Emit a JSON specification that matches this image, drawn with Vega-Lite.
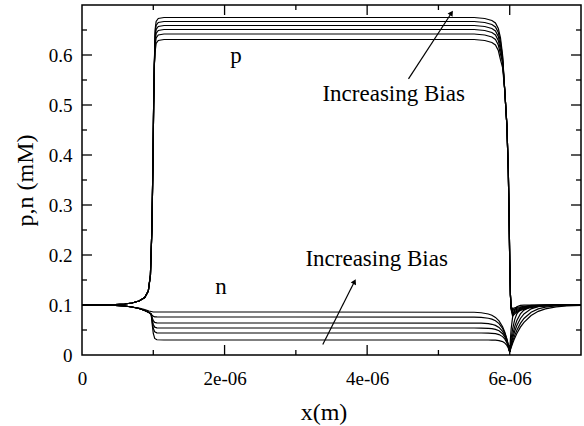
{
  "$schema": "https://vega.github.io/schema/vega-lite/v6.json",
  "width": 499,
  "height": 350,
  "autosize": {"type": "none"},
  "padding": {"left": 82, "top": 5, "right": 3, "bottom": 71},
  "background": "white",
  "config": {
    "view": {"stroke": "black", "strokeWidth": 1.5},
    "font": "Liberation Serif",
    "axis": {"grid": false, "domain": false, "labelFont": "Liberation Serif", "titleFont": "Liberation Serif", "labelFontSize": 19, "titleFontSize": 24, "labelColor": "black", "titleColor": "black", "titleFontWeight": "normal"}
  },
  "datasets": {
    "curves": [
      {"c":"p1","x":0,"v":0.1},{"c":"p1","x":0.4e-6,"v":0.1005},{"c":"p1","x":0.6e-6,"v":0.102},{"c":"p1","x":0.7e-6,"v":0.104},{"c":"p1","x":0.8e-6,"v":0.108},{"c":"p1","x":0.88e-6,"v":0.115},{"c":"p1","x":0.93e-6,"v":0.128},{"c":"p1","x":0.96e-6,"v":0.16},{"c":"p1","x":0.98e-6,"v":0.25},{"c":"p1","x":0.995e-6,"v":0.38},{"c":"p1","x":1.005e-6,"v":0.5},{"c":"p1","x":1.015e-6,"v":0.58},{"c":"p1","x":1.025e-6,"v":0.606},{"c":"p1","x":1.04e-6,"v":0.623},{"c":"p1","x":1.07e-6,"v":0.629},{"c":"p1","x":1.15e-6,"v":0.631},{"c":"p1","x":3e-6,"v":0.631},{"c":"p1","x":5.5e-6,"v":0.631},{"c":"p1","x":5.65e-6,"v":0.629},{"c":"p1","x":5.75e-6,"v":0.625},{"c":"p1","x":5.8e-6,"v":0.62},{"c":"p1","x":5.84e-6,"v":0.609},{"c":"p1","x":5.87e-6,"v":0.591},{"c":"p1","x":5.9e-6,"v":0.575},{"c":"p1","x":5.93e-6,"v":0.53},{"c":"p1","x":5.96e-6,"v":0.46},{"c":"p1","x":5.98e-6,"v":0.37},{"c":"p1","x":5.99e-6,"v":0.29},{"c":"p1","x":6.0e-6,"v":0.19},{"c":"p1","x":6.01e-6,"v":0.12},{"c":"p1","x":6.02e-6,"v":0.097},{"c":"p1","x":6.04e-6,"v":0.093},{"c":"p1","x":6.08e-6,"v":0.0948},{"c":"p1","x":6.15e-6,"v":0.0965},{"c":"p1","x":6.25e-6,"v":0.098},{"c":"p1","x":6.4e-6,"v":0.0992},{"c":"p1","x":6.6e-6,"v":0.0997},{"c":"p1","x":7e-6,"v":0.1},

      {"c":"p2","x":0,"v":0.1},{"c":"p2","x":0.4e-6,"v":0.1005},{"c":"p2","x":0.6e-6,"v":0.102},{"c":"p2","x":0.7e-6,"v":0.104},{"c":"p2","x":0.8e-6,"v":0.108},{"c":"p2","x":0.88e-6,"v":0.115},{"c":"p2","x":0.93e-6,"v":0.128},{"c":"p2","x":0.96e-6,"v":0.16},{"c":"p2","x":0.98e-6,"v":0.25},{"c":"p2","x":0.995e-6,"v":0.38},{"c":"p2","x":1.005e-6,"v":0.5},{"c":"p2","x":1.015e-6,"v":0.58},{"c":"p2","x":1.025e-6,"v":0.617},{"c":"p2","x":1.04e-6,"v":0.634},{"c":"p2","x":1.07e-6,"v":0.64},{"c":"p2","x":1.15e-6,"v":0.642},{"c":"p2","x":3e-6,"v":0.642},{"c":"p2","x":5.5e-6,"v":0.642},{"c":"p2","x":5.65e-6,"v":0.64},{"c":"p2","x":5.75e-6,"v":0.636},{"c":"p2","x":5.8e-6,"v":0.631},{"c":"p2","x":5.84e-6,"v":0.62},{"c":"p2","x":5.87e-6,"v":0.602},{"c":"p2","x":5.9e-6,"v":0.585},{"c":"p2","x":5.93e-6,"v":0.53},{"c":"p2","x":5.96e-6,"v":0.46},{"c":"p2","x":5.98e-6,"v":0.37},{"c":"p2","x":5.99e-6,"v":0.29},{"c":"p2","x":6.0e-6,"v":0.19},{"c":"p2","x":6.01e-6,"v":0.12},{"c":"p2","x":6.02e-6,"v":0.095},{"c":"p2","x":6.04e-6,"v":0.09},{"c":"p2","x":6.08e-6,"v":0.0925},{"c":"p2","x":6.15e-6,"v":0.095},{"c":"p2","x":6.25e-6,"v":0.0972},{"c":"p2","x":6.4e-6,"v":0.0988},{"c":"p2","x":6.6e-6,"v":0.0996},{"c":"p2","x":7e-6,"v":0.1},

      {"c":"p3","x":0,"v":0.1},{"c":"p3","x":0.4e-6,"v":0.1005},{"c":"p3","x":0.6e-6,"v":0.102},{"c":"p3","x":0.7e-6,"v":0.104},{"c":"p3","x":0.8e-6,"v":0.108},{"c":"p3","x":0.88e-6,"v":0.115},{"c":"p3","x":0.93e-6,"v":0.128},{"c":"p3","x":0.96e-6,"v":0.16},{"c":"p3","x":0.98e-6,"v":0.25},{"c":"p3","x":0.995e-6,"v":0.38},{"c":"p3","x":1.005e-6,"v":0.5},{"c":"p3","x":1.015e-6,"v":0.58},{"c":"p3","x":1.025e-6,"v":0.626},{"c":"p3","x":1.04e-6,"v":0.643},{"c":"p3","x":1.07e-6,"v":0.649},{"c":"p3","x":1.15e-6,"v":0.651},{"c":"p3","x":3e-6,"v":0.651},{"c":"p3","x":5.5e-6,"v":0.651},{"c":"p3","x":5.65e-6,"v":0.649},{"c":"p3","x":5.75e-6,"v":0.645},{"c":"p3","x":5.8e-6,"v":0.64},{"c":"p3","x":5.84e-6,"v":0.629},{"c":"p3","x":5.87e-6,"v":0.611},{"c":"p3","x":5.9e-6,"v":0.588},{"c":"p3","x":5.93e-6,"v":0.53},{"c":"p3","x":5.96e-6,"v":0.46},{"c":"p3","x":5.98e-6,"v":0.37},{"c":"p3","x":5.99e-6,"v":0.29},{"c":"p3","x":6.0e-6,"v":0.19},{"c":"p3","x":6.01e-6,"v":0.12},{"c":"p3","x":6.02e-6,"v":0.094},{"c":"p3","x":6.04e-6,"v":0.087},{"c":"p3","x":6.08e-6,"v":0.0903},{"c":"p3","x":6.15e-6,"v":0.0935},{"c":"p3","x":6.25e-6,"v":0.0964},{"c":"p3","x":6.4e-6,"v":0.0986},{"c":"p3","x":6.6e-6,"v":0.0995},{"c":"p3","x":7e-6,"v":0.1},

      {"c":"p4","x":0,"v":0.1},{"c":"p4","x":0.4e-6,"v":0.1005},{"c":"p4","x":0.6e-6,"v":0.102},{"c":"p4","x":0.7e-6,"v":0.104},{"c":"p4","x":0.8e-6,"v":0.108},{"c":"p4","x":0.88e-6,"v":0.115},{"c":"p4","x":0.93e-6,"v":0.128},{"c":"p4","x":0.96e-6,"v":0.16},{"c":"p4","x":0.98e-6,"v":0.25},{"c":"p4","x":0.995e-6,"v":0.38},{"c":"p4","x":1.005e-6,"v":0.5},{"c":"p4","x":1.015e-6,"v":0.58},{"c":"p4","x":1.025e-6,"v":0.634},{"c":"p4","x":1.04e-6,"v":0.651},{"c":"p4","x":1.07e-6,"v":0.657},{"c":"p4","x":1.15e-6,"v":0.659},{"c":"p4","x":3e-6,"v":0.659},{"c":"p4","x":5.5e-6,"v":0.659},{"c":"p4","x":5.65e-6,"v":0.657},{"c":"p4","x":5.75e-6,"v":0.653},{"c":"p4","x":5.8e-6,"v":0.648},{"c":"p4","x":5.84e-6,"v":0.637},{"c":"p4","x":5.87e-6,"v":0.619},{"c":"p4","x":5.9e-6,"v":0.592},{"c":"p4","x":5.93e-6,"v":0.53},{"c":"p4","x":5.96e-6,"v":0.46},{"c":"p4","x":5.98e-6,"v":0.37},{"c":"p4","x":5.99e-6,"v":0.29},{"c":"p4","x":6.0e-6,"v":0.19},{"c":"p4","x":6.01e-6,"v":0.12},{"c":"p4","x":6.02e-6,"v":0.093},{"c":"p4","x":6.04e-6,"v":0.084},{"c":"p4","x":6.08e-6,"v":0.088},{"c":"p4","x":6.15e-6,"v":0.092},{"c":"p4","x":6.25e-6,"v":0.0955},{"c":"p4","x":6.4e-6,"v":0.0981},{"c":"p4","x":6.6e-6,"v":0.0994},{"c":"p4","x":7e-6,"v":0.1},

      {"c":"p5","x":0,"v":0.1},{"c":"p5","x":0.4e-6,"v":0.1005},{"c":"p5","x":0.6e-6,"v":0.102},{"c":"p5","x":0.7e-6,"v":0.104},{"c":"p5","x":0.8e-6,"v":0.108},{"c":"p5","x":0.88e-6,"v":0.115},{"c":"p5","x":0.93e-6,"v":0.128},{"c":"p5","x":0.96e-6,"v":0.16},{"c":"p5","x":0.98e-6,"v":0.25},{"c":"p5","x":0.995e-6,"v":0.38},{"c":"p5","x":1.005e-6,"v":0.5},{"c":"p5","x":1.015e-6,"v":0.58},{"c":"p5","x":1.025e-6,"v":0.642},{"c":"p5","x":1.04e-6,"v":0.659},{"c":"p5","x":1.07e-6,"v":0.665},{"c":"p5","x":1.15e-6,"v":0.667},{"c":"p5","x":3e-6,"v":0.667},{"c":"p5","x":5.5e-6,"v":0.667},{"c":"p5","x":5.65e-6,"v":0.665},{"c":"p5","x":5.75e-6,"v":0.661},{"c":"p5","x":5.8e-6,"v":0.656},{"c":"p5","x":5.84e-6,"v":0.645},{"c":"p5","x":5.87e-6,"v":0.627},{"c":"p5","x":5.9e-6,"v":0.596},{"c":"p5","x":5.93e-6,"v":0.53},{"c":"p5","x":5.96e-6,"v":0.46},{"c":"p5","x":5.98e-6,"v":0.37},{"c":"p5","x":5.99e-6,"v":0.29},{"c":"p5","x":6.0e-6,"v":0.19},{"c":"p5","x":6.01e-6,"v":0.12},{"c":"p5","x":6.02e-6,"v":0.092},{"c":"p5","x":6.04e-6,"v":0.081},{"c":"p5","x":6.08e-6,"v":0.0858},{"c":"p5","x":6.15e-6,"v":0.0905},{"c":"p5","x":6.25e-6,"v":0.0947},{"c":"p5","x":6.4e-6,"v":0.0977},{"c":"p5","x":6.6e-6,"v":0.0992},{"c":"p5","x":7e-6,"v":0.1},

      {"c":"p6","x":0,"v":0.1},{"c":"p6","x":0.4e-6,"v":0.1005},{"c":"p6","x":0.6e-6,"v":0.102},{"c":"p6","x":0.7e-6,"v":0.104},{"c":"p6","x":0.8e-6,"v":0.108},{"c":"p6","x":0.88e-6,"v":0.115},{"c":"p6","x":0.93e-6,"v":0.128},{"c":"p6","x":0.96e-6,"v":0.16},{"c":"p6","x":0.98e-6,"v":0.25},{"c":"p6","x":0.995e-6,"v":0.38},{"c":"p6","x":1.005e-6,"v":0.5},{"c":"p6","x":1.015e-6,"v":0.58},{"c":"p6","x":1.025e-6,"v":0.65},{"c":"p6","x":1.04e-6,"v":0.667},{"c":"p6","x":1.07e-6,"v":0.673},{"c":"p6","x":1.15e-6,"v":0.675},{"c":"p6","x":3e-6,"v":0.675},{"c":"p6","x":5.5e-6,"v":0.675},{"c":"p6","x":5.65e-6,"v":0.673},{"c":"p6","x":5.75e-6,"v":0.669},{"c":"p6","x":5.8e-6,"v":0.664},{"c":"p6","x":5.84e-6,"v":0.653},{"c":"p6","x":5.87e-6,"v":0.635},{"c":"p6","x":5.9e-6,"v":0.6},{"c":"p6","x":5.93e-6,"v":0.53},{"c":"p6","x":5.96e-6,"v":0.46},{"c":"p6","x":5.98e-6,"v":0.37},{"c":"p6","x":5.99e-6,"v":0.29},{"c":"p6","x":6.0e-6,"v":0.19},{"c":"p6","x":6.01e-6,"v":0.12},{"c":"p6","x":6.02e-6,"v":0.091},{"c":"p6","x":6.04e-6,"v":0.078},{"c":"p6","x":6.08e-6,"v":0.0835},{"c":"p6","x":6.15e-6,"v":0.089},{"c":"p6","x":6.25e-6,"v":0.0938},{"c":"p6","x":6.4e-6,"v":0.0974},{"c":"p6","x":6.6e-6,"v":0.0991},{"c":"p6","x":7e-6,"v":0.1},

      {"c":"n1","x":0,"v":0.1},{"c":"n1","x":0.4e-6,"v":0.0995},{"c":"n1","x":0.6e-6,"v":0.098},{"c":"n1","x":0.7e-6,"v":0.096},{"c":"n1","x":0.8e-6,"v":0.093},{"c":"n1","x":0.88e-6,"v":0.089},{"c":"n1","x":0.94e-6,"v":0.085},{"c":"n1","x":0.97e-6,"v":0.082},{"c":"n1","x":0.985e-6,"v":0.0612},{"c":"n1","x":1.0e-6,"v":0.043},{"c":"n1","x":1.02e-6,"v":0.0331},{"c":"n1","x":1.05e-6,"v":0.0305},{"c":"n1","x":1.15e-6,"v":0.03},{"c":"n1","x":3e-6,"v":0.03},{"c":"n1","x":5.5e-6,"v":0.03},{"c":"n1","x":5.6e-6,"v":0.03},{"c":"n1","x":5.7e-6,"v":0.03},{"c":"n1","x":5.75e-6,"v":0.0298},{"c":"n1","x":5.8e-6,"v":0.0296},{"c":"n1","x":5.85e-6,"v":0.0288},{"c":"n1","x":5.9e-6,"v":0.0268},{"c":"n1","x":5.93e-6,"v":0.0241},{"c":"n1","x":5.96e-6,"v":0.0192},{"c":"n1","x":5.98e-6,"v":0.0139},{"c":"n1","x":6.0e-6,"v":0.006},{"c":"n1","x":6.01e-6,"v":0.0326},{"c":"n1","x":6.02e-6,"v":0.0518},{"c":"n1","x":6.04e-6,"v":0.0752},{"c":"n1","x":6.07e-6,"v":0.0909},{"c":"n1","x":6.1e-6,"v":0.0966},{"c":"n1","x":6.15e-6,"v":0.0994},{"c":"n1","x":6.2e-6,"v":0.0999},{"c":"n1","x":6.3e-6,"v":0.1},{"c":"n1","x":7e-6,"v":0.1},

      {"c":"n2","x":0,"v":0.1},{"c":"n2","x":0.4e-6,"v":0.0995},{"c":"n2","x":0.6e-6,"v":0.098},{"c":"n2","x":0.7e-6,"v":0.096},{"c":"n2","x":0.8e-6,"v":0.093},{"c":"n2","x":0.88e-6,"v":0.089},{"c":"n2","x":0.94e-6,"v":0.085},{"c":"n2","x":0.97e-6,"v":0.082},{"c":"n2","x":0.985e-6,"v":0.0668},{"c":"n2","x":1.0e-6,"v":0.0535},{"c":"n2","x":1.02e-6,"v":0.0463},{"c":"n2","x":1.05e-6,"v":0.0444},{"c":"n2","x":1.15e-6,"v":0.044},{"c":"n2","x":3e-6,"v":0.044},{"c":"n2","x":5.5e-6,"v":0.044},{"c":"n2","x":5.6e-6,"v":0.044},{"c":"n2","x":5.7e-6,"v":0.0437},{"c":"n2","x":5.75e-6,"v":0.0434},{"c":"n2","x":5.8e-6,"v":0.0426},{"c":"n2","x":5.85e-6,"v":0.0409},{"c":"n2","x":5.9e-6,"v":0.0368},{"c":"n2","x":5.93e-6,"v":0.0322},{"c":"n2","x":5.96e-6,"v":0.0245},{"c":"n2","x":5.98e-6,"v":0.0168},{"c":"n2","x":6.0e-6,"v":0.006},{"c":"n2","x":6.01e-6,"v":0.0205},{"c":"n2","x":6.02e-6,"v":0.0326},{"c":"n2","x":6.04e-6,"v":0.0518},{"c":"n2","x":6.07e-6,"v":0.0707},{"c":"n2","x":6.1e-6,"v":0.0822},{"c":"n2","x":6.15e-6,"v":0.0923},{"c":"n2","x":6.2e-6,"v":0.0966},{"c":"n2","x":6.3e-6,"v":0.0994},{"c":"n2","x":6.4e-6,"v":0.0999},{"c":"n2","x":7e-6,"v":0.1},

      {"c":"n3","x":0,"v":0.1},{"c":"n3","x":0.4e-6,"v":0.0995},{"c":"n3","x":0.6e-6,"v":0.098},{"c":"n3","x":0.7e-6,"v":0.096},{"c":"n3","x":0.8e-6,"v":0.093},{"c":"n3","x":0.88e-6,"v":0.089},{"c":"n3","x":0.94e-6,"v":0.085},{"c":"n3","x":0.97e-6,"v":0.082},{"c":"n3","x":0.985e-6,"v":0.0708},{"c":"n3","x":1.0e-6,"v":0.061},{"c":"n3","x":1.02e-6,"v":0.0557},{"c":"n3","x":1.05e-6,"v":0.0543},{"c":"n3","x":1.15e-6,"v":0.054},{"c":"n3","x":3e-6,"v":0.054},{"c":"n3","x":5.5e-6,"v":0.054},{"c":"n3","x":5.6e-6,"v":0.0538},{"c":"n3","x":5.7e-6,"v":0.0533},{"c":"n3","x":5.75e-6,"v":0.0527},{"c":"n3","x":5.8e-6,"v":0.0512},{"c":"n3","x":5.85e-6,"v":0.0484},{"c":"n3","x":5.9e-6,"v":0.0425},{"c":"n3","x":5.93e-6,"v":0.0363},{"c":"n3","x":5.96e-6,"v":0.0269},{"c":"n3","x":5.98e-6,"v":0.018},{"c":"n3","x":6.0e-6,"v":0.006},{"c":"n3","x":6.01e-6,"v":0.0159},{"c":"n3","x":6.02e-6,"v":0.0247},{"c":"n3","x":6.04e-6,"v":0.0397},{"c":"n3","x":6.07e-6,"v":0.0568},{"c":"n3","x":6.1e-6,"v":0.0691},{"c":"n3","x":6.15e-6,"v":0.0822},{"c":"n3","x":6.2e-6,"v":0.0898},{"c":"n3","x":6.3e-6,"v":0.0966},{"c":"n3","x":6.4e-6,"v":0.0989},{"c":"n3","x":6.5e-6,"v":0.0996},{"c":"n3","x":6.65e-6,"v":0.0999},{"c":"n3","x":7e-6,"v":0.1},

      {"c":"n4","x":0,"v":0.1},{"c":"n4","x":0.4e-6,"v":0.0995},{"c":"n4","x":0.6e-6,"v":0.098},{"c":"n4","x":0.7e-6,"v":0.096},{"c":"n4","x":0.8e-6,"v":0.093},{"c":"n4","x":0.88e-6,"v":0.089},{"c":"n4","x":0.94e-6,"v":0.085},{"c":"n4","x":0.97e-6,"v":0.082},{"c":"n4","x":0.985e-6,"v":0.0748},{"c":"n4","x":1.0e-6,"v":0.0685},{"c":"n4","x":1.02e-6,"v":0.0651},{"c":"n4","x":1.05e-6,"v":0.0642},{"c":"n4","x":1.15e-6,"v":0.064},{"c":"n4","x":3e-6,"v":0.064},{"c":"n4","x":5.5e-6,"v":0.0639},{"c":"n4","x":5.6e-6,"v":0.0636},{"c":"n4","x":5.7e-6,"v":0.0626},{"c":"n4","x":5.75e-6,"v":0.0614},{"c":"n4","x":5.8e-6,"v":0.0592},{"c":"n4","x":5.85e-6,"v":0.0551},{"c":"n4","x":5.9e-6,"v":0.0474},{"c":"n4","x":5.93e-6,"v":0.0398},{"c":"n4","x":5.96e-6,"v":0.0288},{"c":"n4","x":5.98e-6,"v":0.0188},{"c":"n4","x":6.0e-6,"v":0.006},{"c":"n4","x":6.01e-6,"v":0.0135},{"c":"n4","x":6.02e-6,"v":0.0205},{"c":"n4","x":6.04e-6,"v":0.0326},{"c":"n4","x":6.07e-6,"v":0.0475},{"c":"n4","x":6.1e-6,"v":0.0591},{"c":"n4","x":6.15e-6,"v":0.0731},{"c":"n4","x":6.2e-6,"v":0.0822},{"c":"n4","x":6.3e-6,"v":0.0923},{"c":"n4","x":6.4e-6,"v":0.0966},{"c":"n4","x":6.5e-6,"v":0.0985},{"c":"n4","x":6.65e-6,"v":0.0996},{"c":"n4","x":6.8e-6,"v":0.0999},{"c":"n4","x":7e-6,"v":0.1},

      {"c":"n5","x":0,"v":0.1},{"c":"n5","x":0.4e-6,"v":0.0995},{"c":"n5","x":0.6e-6,"v":0.098},{"c":"n5","x":0.7e-6,"v":0.096},{"c":"n5","x":0.8e-6,"v":0.093},{"c":"n5","x":0.88e-6,"v":0.089},{"c":"n5","x":0.94e-6,"v":0.085},{"c":"n5","x":0.97e-6,"v":0.081},{"c":"n5","x":0.985e-6,"v":0.0796},{"c":"n5","x":1.0e-6,"v":0.0775},{"c":"n5","x":1.02e-6,"v":0.0764},{"c":"n5","x":1.05e-6,"v":0.0761},{"c":"n5","x":1.15e-6,"v":0.076},{"c":"n5","x":3e-6,"v":0.076},{"c":"n5","x":5.5e-6,"v":0.0757},{"c":"n5","x":5.6e-6,"v":0.0752},{"c":"n5","x":5.7e-6,"v":0.0735},{"c":"n5","x":5.75e-6,"v":0.0717},{"c":"n5","x":5.8e-6,"v":0.0684},{"c":"n5","x":5.85e-6,"v":0.0628},{"c":"n5","x":5.9e-6,"v":0.053},{"c":"n5","x":5.93e-6,"v":0.0439},{"c":"n5","x":5.96e-6,"v":0.0311},{"c":"n5","x":5.98e-6,"v":0.0199},{"c":"n5","x":6.0e-6,"v":0.006},{"c":"n5","x":6.01e-6,"v":0.0117},{"c":"n5","x":6.02e-6,"v":0.017},{"c":"n5","x":6.04e-6,"v":0.0268},{"c":"n5","x":6.07e-6,"v":0.0393},{"c":"n5","x":6.1e-6,"v":0.0497},{"c":"n5","x":6.15e-6,"v":0.0632},{"c":"n5","x":6.2e-6,"v":0.0731},{"c":"n5","x":6.3e-6,"v":0.0856},{"c":"n5","x":6.4e-6,"v":0.0923},{"c":"n5","x":6.5e-6,"v":0.0959},{"c":"n5","x":6.65e-6,"v":0.0984},{"c":"n5","x":6.8e-6,"v":0.0994},{"c":"n5","x":7e-6,"v":0.0998},

      {"c":"n6","x":0,"v":0.1},{"c":"n6","x":0.4e-6,"v":0.0995},{"c":"n6","x":0.6e-6,"v":0.098},{"c":"n6","x":0.7e-6,"v":0.096},{"c":"n6","x":0.8e-6,"v":0.094},{"c":"n6","x":0.88e-6,"v":0.091},{"c":"n6","x":0.94e-6,"v":0.088},{"c":"n6","x":0.97e-6,"v":0.087},{"c":"n6","x":0.985e-6,"v":0.0865},{"c":"n6","x":1.0e-6,"v":0.086},{"c":"n6","x":1.15e-6,"v":0.086},{"c":"n6","x":3e-6,"v":0.086},{"c":"n6","x":5.5e-6,"v":0.0855},{"c":"n6","x":5.6e-6,"v":0.0845},{"c":"n6","x":5.7e-6,"v":0.082},{"c":"n6","x":5.75e-6,"v":0.0794},{"c":"n6","x":5.8e-6,"v":0.0752},{"c":"n6","x":5.85e-6,"v":0.0682},{"c":"n6","x":5.9e-6,"v":0.0566},{"c":"n6","x":5.93e-6,"v":0.0462},{"c":"n6","x":5.96e-6,"v":0.0324},{"c":"n6","x":5.98e-6,"v":0.0205},{"c":"n6","x":6.0e-6,"v":0.006},{"c":"n6","x":6.01e-6,"v":0.0106},{"c":"n6","x":6.02e-6,"v":0.0149},{"c":"n6","x":6.04e-6,"v":0.023},{"c":"n6","x":6.07e-6,"v":0.0337},{"c":"n6","x":6.1e-6,"v":0.043},{"c":"n6","x":6.15e-6,"v":0.0556},{"c":"n6","x":6.2e-6,"v":0.0654},{"c":"n6","x":6.3e-6,"v":0.079},{"c":"n6","x":6.4e-6,"v":0.0873},{"c":"n6","x":6.5e-6,"v":0.0923},{"c":"n6","x":6.65e-6,"v":0.0964},{"c":"n6","x":6.8e-6,"v":0.0983},{"c":"n6","x":7e-6,"v":0.0994}
    ],
    "labels": [
      {"label": "p", "x": 2.16e-6, "y": 0.599},
      {"label": "n", "x": 1.95e-6, "y": 0.137},
      {"label": "Increasing Bias", "x": 4.372e-6, "y": 0.523},
      {"label": "Increasing Bias", "x": 4.133e-6, "y": 0.193}
    ],
    "tickmarks": [
      {"x": 2e-6, "x2": 2e-6, "y": 0, "y2": 0.02}, {"x": 4e-6, "x2": 4e-6, "y": 0, "y2": 0.02}, {"x": 6e-6, "x2": 6e-6, "y": 0, "y2": 0.02},
      {"x": 2e-6, "x2": 2e-6, "y": 0.7, "y2": 0.68}, {"x": 4e-6, "x2": 4e-6, "y": 0.7, "y2": 0.68}, {"x": 6e-6, "x2": 6e-6, "y": 0.7, "y2": 0.68},
      {"x": 1e-6, "x2": 1e-6, "y": 0, "y2": 0.01}, {"x": 3e-6, "x2": 3e-6, "y": 0, "y2": 0.01}, {"x": 5e-6, "x2": 5e-6, "y": 0, "y2": 0.01},
      {"x": 1e-6, "x2": 1e-6, "y": 0.7, "y2": 0.69}, {"x": 3e-6, "x2": 3e-6, "y": 0.7, "y2": 0.69}, {"x": 5e-6, "x2": 5e-6, "y": 0.7, "y2": 0.69},
      {"x": 0, "x2": 0.14e-6, "y": 0.1, "y2": 0.1}, {"x": 0, "x2": 0.14e-6, "y": 0.2, "y2": 0.2}, {"x": 0, "x2": 0.14e-6, "y": 0.3, "y2": 0.3}, {"x": 0, "x2": 0.14e-6, "y": 0.4, "y2": 0.4}, {"x": 0, "x2": 0.14e-6, "y": 0.5, "y2": 0.5}, {"x": 0, "x2": 0.14e-6, "y": 0.6, "y2": 0.6},
      {"x": 7e-6, "x2": 6.86e-6, "y": 0.1, "y2": 0.1}, {"x": 7e-6, "x2": 6.86e-6, "y": 0.2, "y2": 0.2}, {"x": 7e-6, "x2": 6.86e-6, "y": 0.3, "y2": 0.3}, {"x": 7e-6, "x2": 6.86e-6, "y": 0.4, "y2": 0.4}, {"x": 7e-6, "x2": 6.86e-6, "y": 0.5, "y2": 0.5}, {"x": 7e-6, "x2": 6.86e-6, "y": 0.6, "y2": 0.6},
      {"x": 0, "x2": 0.07e-6, "y": 0.05, "y2": 0.05}, {"x": 0, "x2": 0.07e-6, "y": 0.15, "y2": 0.15}, {"x": 0, "x2": 0.07e-6, "y": 0.25, "y2": 0.25}, {"x": 0, "x2": 0.07e-6, "y": 0.35, "y2": 0.35}, {"x": 0, "x2": 0.07e-6, "y": 0.45, "y2": 0.45}, {"x": 0, "x2": 0.07e-6, "y": 0.55, "y2": 0.55}, {"x": 0, "x2": 0.07e-6, "y": 0.65, "y2": 0.65},
      {"x": 7e-6, "x2": 6.93e-6, "y": 0.05, "y2": 0.05}, {"x": 7e-6, "x2": 6.93e-6, "y": 0.15, "y2": 0.15}, {"x": 7e-6, "x2": 6.93e-6, "y": 0.25, "y2": 0.25}, {"x": 7e-6, "x2": 6.93e-6, "y": 0.35, "y2": 0.35}, {"x": 7e-6, "x2": 6.93e-6, "y": 0.45, "y2": 0.45}, {"x": 7e-6, "x2": 6.93e-6, "y": 0.55, "y2": 0.55}, {"x": 7e-6, "x2": 6.93e-6, "y": 0.65, "y2": 0.65}
    ],
    "arrowTop": [{"x": 4.58e-6, "y": 0.5524, "x2": 5.183e-6, "y2": 0.684}],
    "arrowBottom": [{"x": 3.378e-6, "y": 0.021, "x2": 3.823e-6, "y2": 0.147}]
  },
  "layer": [
    {
      "data": {"name": "curves"},
      "mark": {"type": "line", "color": "black", "strokeWidth": 1.2},
      "encoding": {
        "x": {"field": "x", "type": "quantitative", "scale": {"domain": [0, 7e-6], "nice": false, "zero": false},
              "axis": {"orient": "bottom", "values": [0, 2e-6, 4e-6, 6e-6], "labelExpr": "datum.value == 0 ? '0' : round(datum.value * 1e6) + 'e-06'", "ticks": false, "labelFlush": false, "labelPadding": 14, "title": "x(m)", "titleX": 241.5, "titleY": 57, "titleBaseline": "middle"}},
        "y": {"field": "v", "type": "quantitative", "scale": {"domain": [0, 0.7], "nice": false, "zero": false},
              "axis": {"orient": "left", "values": [0, 0.1, 0.2, 0.3, 0.4, 0.5, 0.6], "format": "~g", "ticks": false, "labelPadding": 10, "title": "p,n (mM)", "titleX": -57, "titleBaseline": "middle"}},
        "detail": {"field": "c", "type": "nominal"}
      }
    },
    {
      "data": {"name": "labels"},
      "mark": {"type": "text", "font": "Liberation Serif", "fontSize": 23, "color": "black", "align": "center", "baseline": "middle"},
      "encoding": {
        "x": {"field": "x", "type": "quantitative"},
        "y": {"field": "y", "type": "quantitative"},
        "text": {"field": "label", "type": "nominal"}
      }
    },
    {
      "data": {"name": "arrowTop"},
      "mark": {"type": "rule", "color": "black", "strokeWidth": 1.2},
      "encoding": {
        "x": {"field": "x", "type": "quantitative"},
        "y": {"field": "y", "type": "quantitative"},
        "x2": {"field": "x2"},
        "y2": {"field": "y2"}
      }
    },
    {
      "data": {"name": "arrowTop"},
      "mark": {"type": "point", "shape": "triangle-up", "filled": true, "color": "black", "opacity": 1, "size": 35, "angle": 33},
      "encoding": {
        "x": {"field": "x2", "type": "quantitative"},
        "y": {"field": "y2", "type": "quantitative"}
      }
    },
    {
      "data": {"name": "arrowBottom"},
      "mark": {"type": "rule", "color": "black", "strokeWidth": 1.2},
      "encoding": {
        "x": {"field": "x", "type": "quantitative"},
        "y": {"field": "y", "type": "quantitative"},
        "x2": {"field": "x2"},
        "y2": {"field": "y2"}
      }
    },
    {
      "data": {"name": "arrowBottom"},
      "mark": {"type": "point", "shape": "triangle-up", "filled": true, "color": "black", "opacity": 1, "size": 35, "angle": 27},
      "encoding": {
        "x": {"field": "x2", "type": "quantitative"},
        "y": {"field": "y2", "type": "quantitative"}
      }
    },
    {
      "data": {"name": "tickmarks"},
      "mark": {"type": "rule", "color": "black", "strokeWidth": 1.3},
      "encoding": {
        "x": {"field": "x", "type": "quantitative"},
        "y": {"field": "y", "type": "quantitative"},
        "x2": {"field": "x2"},
        "y2": {"field": "y2"}
      }
    }
  ]
}
